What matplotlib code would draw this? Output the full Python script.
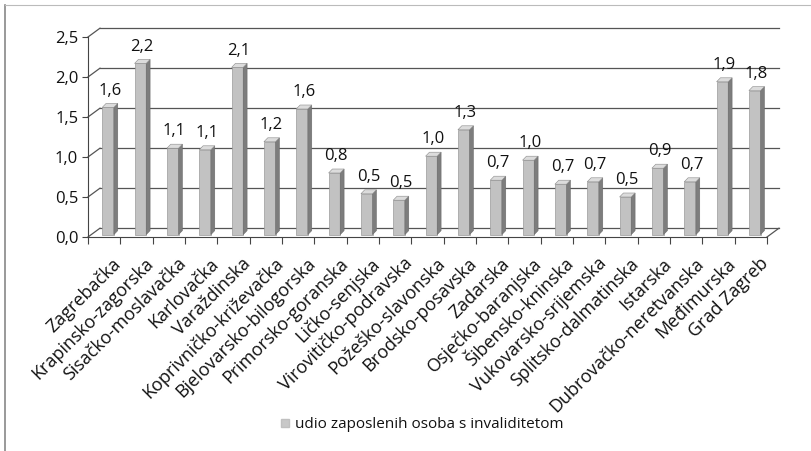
import matplotlib.pyplot as plt
from matplotlib.patches import Polygon
from matplotlib.lines import Line2D

plt.rcParams['font.family'] = ['Open Sans', 'DejaVu Sans']

# Županije (counties)
counties = ['Zagrebačka', 'Krapinsko-zagorska', 'Sisačko-moslavačka', 'Karlovačka',
            'Varaždinska', 'Koprivničko-križevačka', 'Bjelovarsko-bilogorska',
            'Primorsko-goranska', 'Ličko-senjska', 'Virovitičko-podravska',
            'Požeško-slavonska', 'Brodsko-posavska', 'Zadarska', 'Osječko-baranjska',
            'Šibensko-kninska', 'Vukovarsko-srijemska', 'Splitsko-dalmatinska',
            'Istarska', 'Dubrovačko-neretvanska', 'Međimurska', 'Grad Zagreb']
share = [1.62, 2.17, 1.11, 1.09, 2.12, 1.19, 1.60, 0.80, 0.54, 0.46, 1.01,
         1.34, 0.71, 0.96, 0.66, 0.69, 0.50, 0.86, 0.69, 1.94, 1.83]
yticks = [0.0, 0.5, 1.0, 1.5, 2.0, 2.5]
series_name = 'udio zaposlenih osoba s invaliditetom'

fig = plt.figure(figsize=(8.12, 4.51), dpi=100)
ax = fig.add_axes([88 / 812, 214 / 451, 679 / 812, 200 / 451])
n = len(counties)
ax.set_xlim(-0.5, n - 0.5)
ax.set_ylim(0, 2.5)

# 3d-ish offsets (data units)
gdx, gdy = 0.37, 0.11   # back wall
bdx, bdy = 0.12, 0.05   # bar depth
bw = 0.36
shift = 0.12

# back wall grid + left wall diagonals
for t in yticks:
    ax.plot([-0.5 + gdx, n - 0.5 + gdx], [t + gdy, t + gdy], color='#555555', lw=0.9, clip_on=False, zorder=1)
    ax.plot([-0.5, -0.5 + gdx], [t, t + gdy], color='#555555', lw=0.9, clip_on=False, zorder=1)
ax.plot([n - 0.5, n - 0.5 + gdx], [0, gdy], color='#555555', lw=0.9, clip_on=False, zorder=1)

# bars
xs = [i + shift for i in range(n)]
base = 0.03
ax.bar(xs, [v - base for v in share], bottom=base, width=bw, color='#c2c2c2',
       edgecolor='#9a9a9a', lw=0.5, zorder=3, clip_on=False)
for x, v in zip(xs, share):
    r = x + bw / 2
    l = x - bw / 2
    ax.add_patch(Polygon([(r, base), (r + bdx, base + bdy), (r + bdx, v + bdy), (r, v)],
                         closed=True, fc='#7d7d7d', ec='#6a6a6a', lw=0.4, zorder=3, clip_on=False))
    ax.add_patch(Polygon([(l, v), (r, v), (r + bdx, v + bdy), (l + bdx, v + bdy)],
                         closed=True, fc='#dcdcdc', ec='#8a8a8a', lw=0.4, zorder=3, clip_on=False))
    ax.text(x + 0.05, v + 0.11, f'{v:.1f}'.replace('.', ','), ha='center', va='bottom',
            fontsize=12, color='#111111', zorder=4)

# axes look
for s in ['top', 'right']:
    ax.spines[s].set_visible(False)
ax.spines['left'].set_color('#444444')
ax.spines['bottom'].set_color('#444444')
ax.set_yticks(yticks)
ax.set_yticklabels([f'{t:.1f}'.replace('.', ',') for t in yticks], fontsize=12, color='#111111')
ax.tick_params(axis='y', length=4, color='#444444', pad=3)
ax.set_xticks([i - 0.5 for i in range(n + 1)], minor=False)
ax.set_xticklabels([])
ax.tick_params(axis='x', length=5, color='#444444', direction='out')
for i, c in enumerate(counties):
    ax.text(i + 0.45, -0.3, c, rotation=45, rotation_mode='anchor', ha='right', va='center',
            fontsize=13, color='#111111')

# legend
leg_handle = plt.Rectangle((0, 0), 1, 1, fc='#c8c8c8', ec='#c0c0c0')
fig.legend([leg_handle], [series_name], loc='center', bbox_to_anchor=(422 / 812, 1 - 425 / 451),
           frameon=False, fontsize=11, handlelength=0.5, handleheight=0.5, handletextpad=0.4,
           labelcolor='#111111')

# outer chart frame (only left/top visible on the scan)
fig.add_artist(Line2D([5 / 812, 5 / 812], [0, 1 - 5 / 451], color='#888888', lw=1.2))
fig.add_artist(Line2D([5 / 812, 1], [1 - 5 / 451, 1 - 5 / 451], color='#bbbbbb', lw=0.8))

fig.savefig('out.png', dpi=100)
